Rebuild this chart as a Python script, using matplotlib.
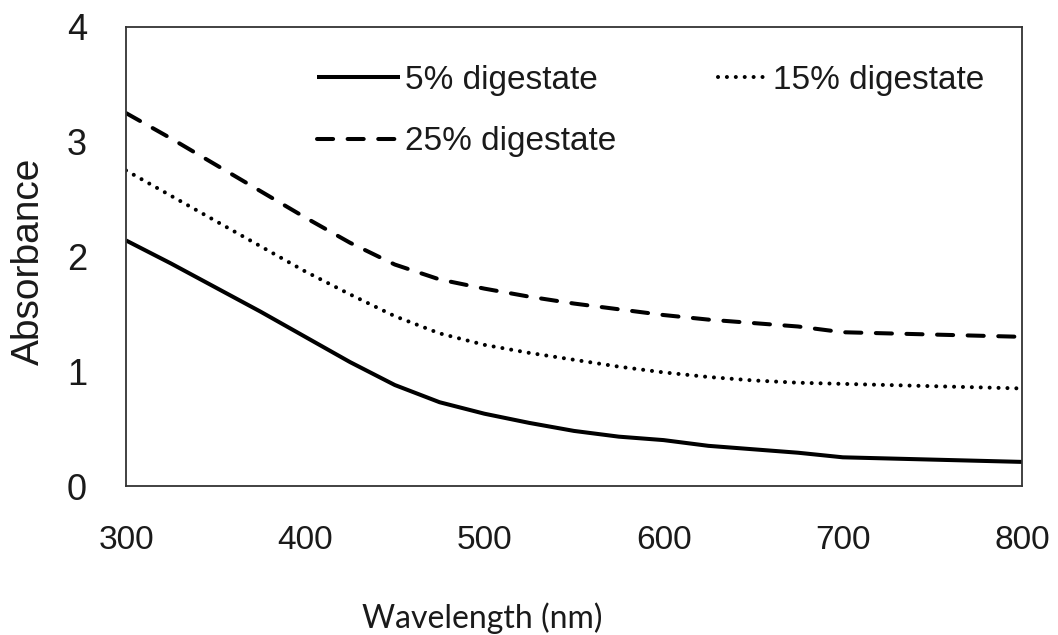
import matplotlib
matplotlib.use("Agg")
import matplotlib.pyplot as plt

wavelength = [300, 325, 350, 375, 400, 425, 450, 475, 500, 525, 550, 575,
              600, 625, 650, 675, 700, 725, 750, 775, 800]
abs_5 = [2.14, 1.94, 1.73, 1.52, 1.30, 1.08, 0.88, 0.73, 0.63, 0.55, 0.48, 0.43,
         0.40, 0.35, 0.32, 0.29, 0.25, 0.24, 0.23, 0.22, 0.21]
abs_15 = [2.75, 2.53, 2.31, 2.09, 1.87, 1.67, 1.48, 1.33, 1.23, 1.16, 1.10, 1.04,
          0.99, 0.95, 0.92, 0.90, 0.89, 0.88, 0.87, 0.86, 0.85]
abs_25 = [3.25, 3.03, 2.80, 2.57, 2.34, 2.12, 1.93, 1.80, 1.72, 1.65, 1.59, 1.54,
          1.49, 1.45, 1.42, 1.39, 1.34, 1.33, 1.32, 1.31, 1.30]
labels = ["5% digestate", "15% digestate", "25% digestate"]
x_ticks = [300, 400, 500, 600, 700, 800]
y_ticks = [0, 1, 2, 3, 4]

plt.rcParams['font.family'] = ['Liberation Sans', 'DejaVu Sans']
txt = '#1a1a1a'

fig = plt.figure(figsize=(10.58, 6.35), dpi=100)
ax = fig.add_axes([126/1058, 1-486/635, 896/1058, 459/635])

lw = 2.9
l5, = ax.plot(wavelength, abs_5, color='black', lw=lw, solid_capstyle='butt')
l15, = ax.plot(wavelength, abs_15, color='black', lw=lw,
               linestyle=(0, (0.01, 2.2)), dash_capstyle='round')
l25, = ax.plot(wavelength, abs_25, color='black', lw=lw,
               linestyle=(0, (4.0, 3.6)), dash_capstyle='round')

ax.set_xlim(300, 800)
ax.set_ylim(0, 4)
ax.set_xticks(x_ticks)
ax.set_yticks(y_ticks)
ax.tick_params(axis='both', length=0, colors=txt)
ax.tick_params(axis='x', pad=28, labelsize=24)
ax.tick_params(axis='y', pad=28, labelsize=26)
for s in ax.spines.values():
    s.set_color('#333333')
    s.set_linewidth(1.3)

ax.set_ylabel("Absorbance", fontsize=28, color=txt)
ax.yaxis.set_label_coords(-0.088, 0.49)
ax.set_xlabel("Wavelength (nm)", fontsize=23, color=txt,
              family=['Lato', 'DejaVu Sans'])
ax.xaxis.set_label_coords((482-126)/896, -0.253)

common = dict(frameon=False, fontsize=24, handletextpad=0.15,
              borderpad=0, borderaxespad=0, labelspacing=0.92)
leg1 = ax.legend([l5, l25], [labels[0], labels[2]], handlelength=2.5,
                 loc='center left', bbox_to_anchor=((317-126)/896, (486-111)/459),
                 **common)
for t in leg1.get_texts():
    t.set_color(txt)
ax.add_artist(leg1)
leg2 = ax.legend([l15], [labels[1]], handlelength=1.5,
                 loc='center left', bbox_to_anchor=((718-126)/896, (486-80)/459),
                 **common)
for t in leg2.get_texts():
    t.set_color(txt)

fig.savefig("out.png", dpi=100)
